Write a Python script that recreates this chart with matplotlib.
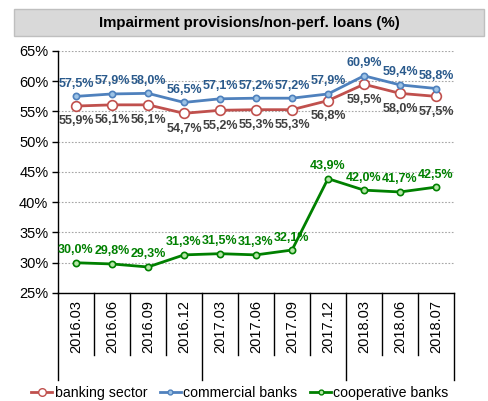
import numpy as np
import matplotlib
matplotlib.use("Agg")
import matplotlib.pyplot as plt
from matplotlib.patches import Rectangle
from matplotlib.lines import Line2D

plt.rcParams["font.family"] = ["Liberation Sans", "DejaVu Sans"]

TITLE = "Impairment provisions/non-perf. loans (%)"
periods = ["2016.03", "2016.06", "2016.09", "2016.12", "2017.03", "2017.06",
           "2017.09", "2017.12", "2018.03", "2018.06", "2018.07"]
banking_sector = [55.9, 56.1, 56.1, 54.7, 55.2, 55.3, 55.3, 56.8, 59.5, 58.0, 57.5]
commercial_banks = [57.5, 57.9, 58.0, 56.5, 57.1, 57.2, 57.2, 57.9, 60.9, 59.4, 58.8]
cooperative_banks = [30.0, 29.8, 29.3, 31.3, 31.5, 31.3, 32.1, 43.9, 42.0, 41.7, 42.5]
# number of quarters shown per year, used for the long separators under the axis
year_sizes = [4, 4, 3]


def pct(v):
    return f"{v:.1f}%".replace(".", ",")


fig = plt.figure(figsize=(4.89, 4.01), dpi=100)
ax = fig.add_axes([58 / 489, 1 - 293 / 401, 396 / 489, 242 / 401])
x = np.arange(len(periods))

series = [
    ("banking sector", banking_sector, "#C0504D", "white", 7, 5.5, -1, "#404040"),
    ("commercial banks", commercial_banks, "#4F81BD", "#9DC3E6", 4.5, 3.5, 1, "#2A5A8C"),
    ("cooperative banks", cooperative_banks, "#008000", "#B6E8A8", 4.5, 3.5, 1, "#008000"),
]
handles = []
for name, vals, col, face, ms, lms, side, tcol in series:
    ax.plot(x, vals, color=col, lw=2, marker="o", ms=ms, mfc=face, mec=col,
            mew=1.2, zorder=3)
    handles.append(Line2D([], [], color=col, lw=2, marker="o", ms=lms, mfc=face,
                          mec=col, mew=1, label=name))
    for xi, v in zip(x, vals):
        off = 9 if side > 0 else -11
        ax.annotate(pct(v), (xi, v), xytext=(0, off), textcoords="offset points",
                    ha="center", va="center", fontsize=9, fontweight="bold",
                    color=tcol, zorder=4, annotation_clip=False)

ax.set_xlim(-0.5, len(periods) - 0.5)
ax.set_ylim(25, 65)
ax.set_yticks(np.arange(25, 66, 5))
ax.set_yticklabels([f"{t}%" for t in range(25, 66, 5)], fontsize=10.5)
ax.tick_params(axis="y", length=4, width=1, pad=3, color="black")
ax.grid(axis="y", color="#A6A6A6", lw=0.8, ls=(0, (1.5, 1.5)))
ax.set_axisbelow(True)
for s in ("top", "right"):
    ax.spines[s].set_visible(False)
ax.spines["left"].set_linewidth(1)
ax.spines["bottom"].set_linewidth(1)

ax.set_xticks(x)
ax.set_xticklabels([])
ax.tick_params(axis="x", length=0)
trans = ax.get_xaxis_transform()
for xi, lab in zip(x, periods):
    ax.text(xi, -7 / 242, lab, transform=trans, rotation=90, ha="center",
            va="top", fontsize=10.5)

# category separators below the axis; year boundaries run further down
bounds = np.arange(len(periods) + 1) - 0.5
year_edges = set(np.cumsum([0] + year_sizes) - 0.5)
for b in bounds:
    depth = 87 if b in year_edges else 62
    ax.add_line(Line2D([b, b], [0, -depth / 242], transform=trans, color="black",
                       lw=1, clip_on=False))

# title box
fig.patches.append(Rectangle((14 / 489, 1 - 36 / 401), 470 / 489, 27 / 401,
                             transform=fig.transFigure, facecolor="#D9D9D9",
                             edgecolor="#BFBFBF", lw=1))
fig.text(249 / 489, 1 - 22.5 / 401, TITLE, ha="center", va="center",
         fontsize=10.8, fontweight="bold")

fig.legend(handles=handles, loc="center", bbox_to_anchor=(240 / 489, 1 - 393 / 401),
           ncol=3, frameon=False, fontsize=10.2, handlelength=1.5,
           handletextpad=0.15, columnspacing=0.9)

fig.savefig("out.png", dpi=100)
